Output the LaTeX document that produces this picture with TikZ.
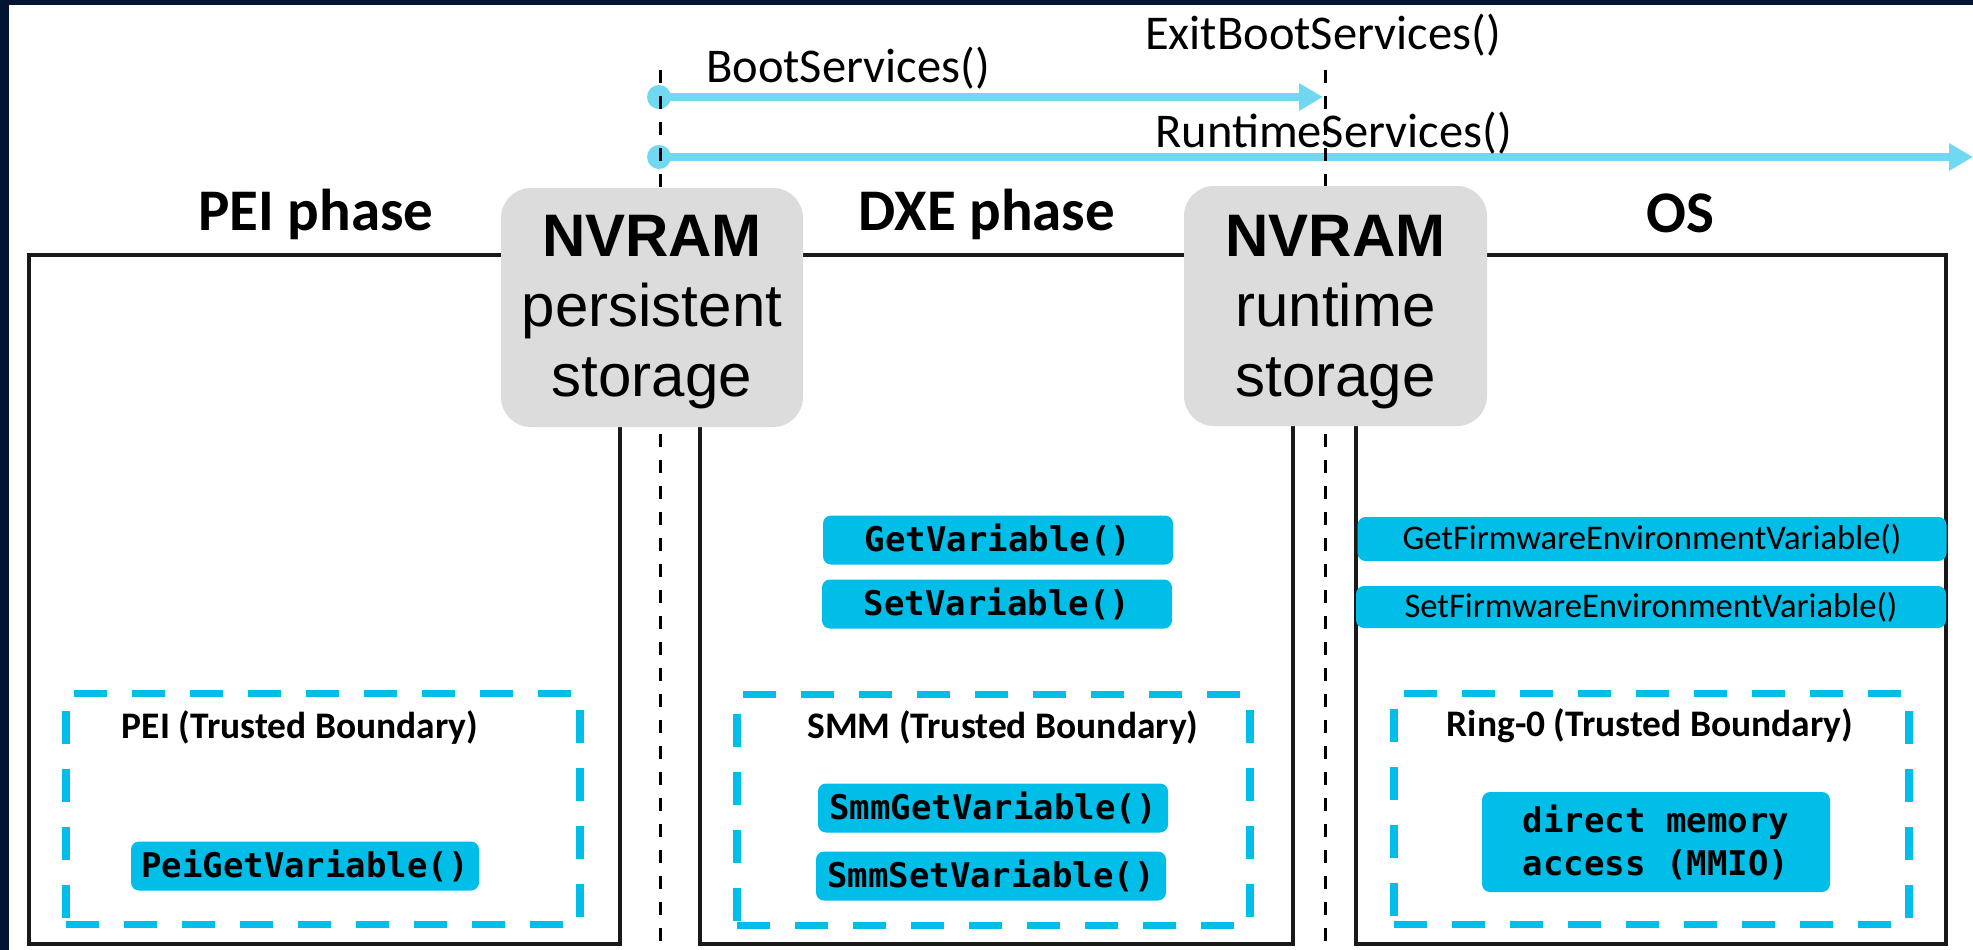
\documentclass[tikz,border=0pt]{standalone}
\usepackage{fontspec}
\setmainfont{Carlito}
\newfontfamily\arialf{Liberation Sans}
\newfontfamily\monof{DejaVu Sans Mono}
\usetikzlibrary{arrows.meta}
\definecolor{navy}{RGB}{1,20,50}
\definecolor{cyanbox}{RGB}{0,190,232}
\definecolor{arrowc}{RGB}{112,216,240}
\definecolor{nvgray}{RGB}{220,220,220}
\definecolor{lineblk}{RGB}{25,25,25}
\begin{document}
\begin{tikzpicture}[x=1pt,y=-1pt,
  phasebox/.style={draw=lineblk, line width=4pt, inner sep=0pt},
  trustbox/.style={draw=cyanbox, line width=7.5pt, dash pattern=on 33pt off 25pt, inner sep=0pt},
  fnbox/.style={fill=cyanbox, rounded corners=8pt, inner sep=0pt, text=black,
    font={\monof\bfseries\fontsize{34}{43}\selectfont}},
  fwbox/.style={fill=cyanbox, rounded corners=8pt, inner sep=0pt, text=black,
    font={\fontsize{34.6}{40}\selectfont}},
  nvbox/.style={fill=nvgray, rounded corners=30pt, inner sep=0pt, align=center,
    font={\arialf\fontsize{60}{70}\selectfont}},
  phasetitle/.style={anchor=base, inner sep=0pt, font={\bfseries\fontsize{59}{70}\selectfont}},
  trusttitle/.style={anchor=base, inner sep=0pt, font={\bfseries\fontsize{37.5}{45}\selectfont}},
  svclabel/.style={anchor=base west, inner sep=0pt, font={\fontsize{48.5}{58}\selectfont}},
  svcarrow/.style={draw=arrowc, line width=8pt, -{Triangle[length=24pt,width=26pt]}},
  svcdot/.style={circle, fill=arrowc, minimum size=24pt, inner sep=0pt},
  vdash/.style={draw=black, line width=3pt, dash pattern=on 13pt off 13pt}
]
\useasboundingbox (0,0) rectangle (1973,950);
\fill[navy] (0,0) rectangle (1973,950);
\fill[white] (9,5) rectangle (1973,950);

% phase boxes
\node[phasebox, minimum width=591pt, minimum height=689pt] (pei) at (324.5,599.5) {};
\node[phasebox, minimum width=593pt, minimum height=689pt] (dxe) at (996.5,599.5) {};
\node[phasebox, minimum width=590pt, minimum height=689pt] (os) at (1651,599.5) {};

% titles
\node[phasetitle] (peit) at (316,230) {PEI phase};
\node[phasetitle] (dxet) at (987,230) {DXE phase};
\node[phasetitle] (ost) at (1680,232) {OS};

% trusted boundaries
\node[trustbox, minimum width=514pt, minimum height=231pt] (peitb) at (323,809) {};
\node[trustbox, minimum width=513pt, minimum height=231pt] (smmtb) at (993.5,810) {};
\node[trustbox, minimum width=515pt, minimum height=231pt] (r0tb) at (1651.5,809) {};
\node[trusttitle] (peitbl) at (300,738) {PEI (Trusted Boundary)};
\node[trusttitle] (smmtbl) at (1003,738) {SMM (Trusted Boundary)};
\node[trusttitle] (r0tbl) at (1650,736) {Ring-0 (Trusted Boundary)};

% function boxes
\node[fnbox, minimum width=350pt, minimum height=49pt] (getv) at (998,540) {GetVariable()};
\node[fnbox, minimum width=350pt, minimum height=49pt] (setv) at (997,604) {SetVariable()};
\node[fnbox, minimum width=350pt, minimum height=49pt] (smmget) at (993,808) {SmmGetVariable()};
\node[fnbox, minimum width=350pt, minimum height=49pt] (smmset) at (991,876) {SmmSetVariable()};
\node[fnbox, minimum width=348pt, minimum height=49pt] (peiget) at (305,866) {PeiGetVariable()};
\node[fwbox, minimum width=589pt, minimum height=44pt] (getfw) at (1652,539) {GetFirmwareEnvironmentVariable()};
\node[fwbox, minimum width=590pt, minimum height=42pt] (setfw) at (1651,607) {SetFirmwareEnvironmentVariable()};
\node[fnbox, minimum width=348pt, minimum height=100pt, align=center] (dma) at (1656,842) {direct memory\\access (MMIO)};

% service arrows
\node[svcdot] (bsdot) at (659,97) {};
\node[svcdot] (rsdot) at (659,157) {};
\coordinate (bsend) at (1323,97);
\coordinate (rsend) at (1973,157);
\draw[svcarrow] (bsdot.center) -- (bsend);
\draw[svcarrow] (rsdot.center) -- (rsend);
\node[svclabel] (bsl) at (706,82) {BootServices()};
\node[svclabel] (ebsl) at (1145,50) {ExitBootServices()};
\node[svclabel] (rsl) at (1155,147) {RuntimeServices()};

% dashed separators
\coordinate (d1top) at (660,70);
\coordinate (d1bot) at (660,950);
\coordinate (d2top) at (1325,70);
\coordinate (d2bot) at (1325,950);
\draw[vdash] (d1top) -- (d1bot);
\draw[vdash] (d2top) -- (d2bot);

% NVRAM boxes
\node[nvbox, minimum width=302pt, minimum height=239pt] (nv1) at (652,307.5) {};
\node[nvbox, minimum width=303pt, minimum height=240pt] (nv2) at (1335.5,306) {};
\node[nvbox, fill=none] (nv1t) at (652,312) {\textbf{NVRAM}\\persistent\\storage};
\node[nvbox, fill=none] (nv2t) at (1335.5,312) {\textbf{NVRAM}\\runtime\\storage};
\end{tikzpicture}
\end{document}
